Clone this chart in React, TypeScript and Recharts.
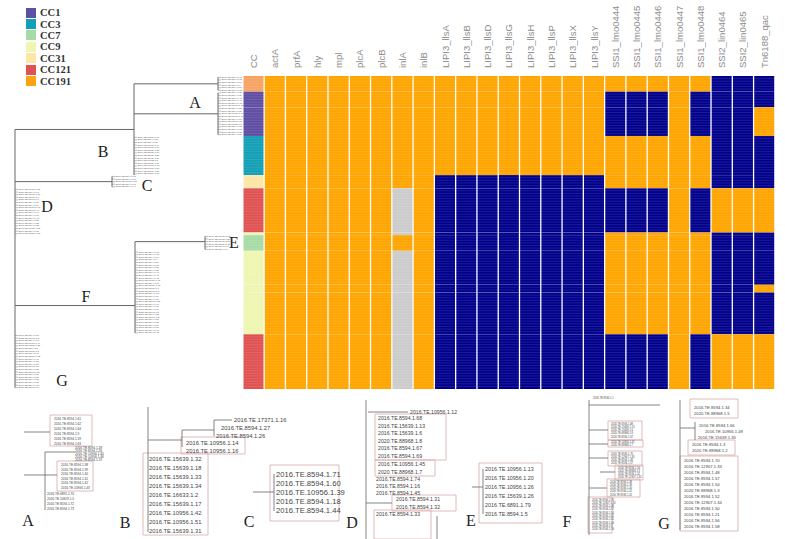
import React from 'react'
import {
  BarChart, Bar, XAxis, YAxis, Cell, ReferenceLine, ReferenceArea,
  ScatterChart, Scatter,
} from 'recharts'

// ─── Heatmap data ─────────────────────────────────────────────────────────
const GENES = [
  'actA', 'prfA', 'hly', 'mpl', 'plcA', 'plcB', 'inlA', 'inlB',
  'LIPI3_llsA', 'LIPI3_llsB', 'LIPI3_llsD', 'LIPI3_llsG', 'LIPI3_llsH', 'LIPI3_llsP', 'LIPI3_llsX', 'LIPI3_llsY',
  'SSI1_lmo0444', 'SSI1_lmo0445', 'SSI1_lmo0446', 'SSI1_lmo0447', 'SSI1_lmo0448',
  'SSI2_lin0464', 'SSI2_lin0465', 'Tn6188_qac',
]

// blocks of isolates (rows) in tree order
const BLOCK_ROWS = [6, 6, 11, 15, 5, 17, 1, 6, 13, 3, 16, 21]
const BLOCK_CC = ['CC191', 'CC1', 'CC1', 'CC3', 'CC31', 'CC121', 'CC9', 'CC7', 'CC9', 'CC9', 'CC9', 'CC121']
// 1 = present, 0 = absent, g = partial   (core | LIPI3 | SSI1 | SSI2 + Tn6188)
const BLOCK_PROFILE = [
  '11111111 11111111 11111 000',
  '11111111 11111111 00010 000',
  '11111111 11111111 00010 001',
  '11111111 11111111 11111 000',
  '11111111 00000000 11111 000',
  '111111g1 00000000 00010 111',
  '111111g1 00000000 11111 000',
  '11111111 00000000 11111 000',
  '111111g1 00000000 11111 000',
  '111111g1 00000000 11111 001',
  '111111g1 00000000 11111 000',
  '111111g1 00000000 00010 111',
].map(s => s.replace(/ /g, ''))

const LEGEND = [
  { cc: 'CC1', color: '#5f4ea3' },
  { cc: 'CC3', color: '#139fb6' },
  { cc: 'CC7', color: '#a7dba6' },
  { cc: 'CC9', color: '#eef6b2' },
  { cc: 'CC31', color: '#fde6a6' },
  { cc: 'CC121', color: '#e05252' },
  { cc: 'CC191', color: '#fca311' },
]
const CC_CELL: Record<string, string> = {
  ...Object.fromEntries(LEGEND.map(l => [l.cc, l.color])),
  CC191: '#f8a262',
}
const GENE_COLOR: Record<string, string> = { '1': '#ffa500', '0': '#00008b', g: '#cccccc' }

const TOTAL_ROWS = BLOCK_ROWS.reduce((a, b) => a + b, 0)
const BLOCK_START = BLOCK_ROWS.map((_, i) => BLOCK_ROWS.slice(0, i).reduce((a, b) => a + b, 0))

const heatData = ['CC', ...GENES].map(name => {
  const row: Record<string, string | number> = { name }
  BLOCK_ROWS.forEach((n, k) => { row['b' + k] = n })
  return row
})

function cellColor(col: number, block: number) {
  if (col === 0) return CC_CELL[BLOCK_CC[block]]
  return GENE_COLOR[BLOCK_PROFILE[block][col - 1]]
}

// ─── Tree data ────────────────────────────────────────────────────────────
const A_NAMES = ['2016.TE.8594.1.61', '2016.TE.8594.1.62', '2016.TE.8594.1.64', '2016.TE.8594.1.9', '2016.TE.8594.1.59', '2016.TE.8594.1.63']
const A_MID = ['2016.TE.8594.1.28', '2016.TE.8594.1.26', '2016.TE.10956.1.40', '2016.TE.10956.1.46', '2016.TE.8594.1.19']
const A_BOX2 = ['2016.TE.8594.1.38', '2016.TE.8594.1.39', '2016.TE.8594.1.40', '2016.TE.8594.1.41', '2016.TE.8594.1.42', '2016.TE.10956.1.43']
const A_LOW = ['2016.TE.6891.1.70', '2016.TE.10629.1.5', '2016.TE.8594.1.72', '2016.TE.8594.1.73']
const B_TOP = ['2016.TE.17371.1.16', '2016.TE.8594.1.27', '2016.TE.8594.1.26']
const B_PAIR = ['2016.TE.10956.1.14', '2016.TE.10956.1.16']
const B_BOX = ['2016.TE.15639.1.32', '2016.TE.15639.1.18', '2016.TE.15639.1.33', '2016.TE.15639.1.34', '2016.TE.16633.1.2', '2016.TE.15639.1.17', '2016.TE.10956.1.42', '2016.TE.10956.1.51', '2016.TE.15639.1.31']
const C_NAMES = ['2016.TE.8594.1.71', '2016.TE.8594.1.60', '2016.TE.10956.1.39', '2016.TE.8594.1.18', '2016.TE.8594.1.44']
const D_TOP = ['2016.TE.10956.1.12']
const D_BOX1 = ['2016.TE.8594.1.68', '2016.TE.15639.1.13', '2016.TE.15639.1.6', '2020.TE.88968.1.8', '2016.TE.8594.1.67', '2016.TE.8594.1.69']
const D_BOX2 = ['2016.TE.10956.1.45', '2020.TE.88968.1.7']
const D_MID = ['2016.TE.8594.1.74', '2016.TE.8594.1.16', '2016.TE.8594.1.45']
const D_BOX3 = ['2016.TE.8594.1.31', '2016.TE.8594.1.32']
const D_LAST = ['2016.TE.8594.1.33']
const E_NAMES = ['2016.TE.10956.1.13', '2016.TE.10956.1.20', '2016.TE.10956.1.26', '2016.TE.15639.1.26', '2016.TE.6891.1.79', '2016.TE.8594.1.5']
const G_BOX1 = ['2016.TE.8594.1.34', '2020.TE.88968.1.5']
const G_MID = ['2016.TE.8594.1.66', '2016.TE.10956.1.49', '2016.TE.15639.1.35']
const G_BOX2 = ['2016.TE.8594.1.3', '2020.TE.88968.1.2']
const G_BOX3 = ['2016.TE.8594.1.70', '2016.TE.12907.1.33', '2016.TE.8594.1.48', '2016.TE.8594.1.57', '2016.TE.8594.1.54', '2020.TE.88968.1.3', '2016.TE.8594.1.52', '2016.TE.12907.1.34', '2016.TE.8594.1.50', '2016.TE.8594.1.21', '2016.TE.8594.1.56', '2016.TE.8594.1.58']
const POOL = [...A_NAMES, ...A_BOX2, ...D_BOX1, ...G_BOX3]

// clades: which row blocks, where the node sits (branch-length units), leaf names
const CLADES = [
  { blocks: [0], node: 218, names: A_NAMES },
  { blocks: [1, 2], node: 218, names: [...A_BOX2, ...A_MID, ...A_LOW] },
  { blocks: [3], node: 134, names: [...B_TOP, ...B_PAIR, ...B_BOX] },
  { blocks: [4], node: 112, names: C_NAMES },
  { blocks: [5, 6], node: 15, names: [...D_TOP, ...D_BOX1, ...D_BOX2, ...D_MID, ...D_BOX3, ...D_LAST] },
  { blocks: [7], node: 205, names: E_NAMES },
  { blocks: [8, 9, 10], node: 135, names: POOL },
  { blocks: [11], node: 15, names: [...G_BOX1, ...G_MID, ...G_BOX2, ...G_BOX3] },
]

// internal branches [x1, row1, x2, row2]
const TREE_BRANCHES = [
  [15, 20.5, 15, 119.5],
  [15, 20.5, 134, 20.5],
  [134, 3, 134, 38],
  [134, 3, 218, 3],
  [218, 0.5, 218, 5.5],
  [134, 14.5, 218, 14.5],
  [218, 6.5, 218, 22.5],
  [15, 40.5, 112, 40.5],
  [112, 38.5, 112, 42.5],
  [15, 88, 135, 88],
  [135, 63.5, 135, 98.5],
  [135, 63.5, 205, 63.5],
  [205, 61.5, 205, 66.5],
]

const CLADE_LETTERS = [
  { name: 'A', x: 195, y: 10 },
  { name: 'B', x: 103, y: 29 },
  { name: 'C', x: 147, y: 41.8 },
  { name: 'D', x: 47, y: 50 },
  { name: 'E', x: 234, y: 63.7 },
  { name: 'F', x: 86, y: 84.4 },
  { name: 'G', x: 62, y: 116.6 },
]

const leafData = CLADES.flatMap(c => {
  const first = BLOCK_START[c.blocks[0]]
  const count = c.blocks.reduce((a, b) => a + BLOCK_ROWS[b], 0)
  return Array.from({ length: count }, (_, i) => ({
    x: c.node, y: first + i + 0.5, name: c.names[i % c.names.length],
  }))
})

// ─── Zoomed insets ────────────────────────────────────────────────────────
const INSET_TEXT = [
  { panel: 'A', x: 54, y0: 419, step: 5, names: A_NAMES },
  { panel: 'A', x: 75, y0: 448, step: 3, names: A_MID },
  { panel: 'A', x: 61, y0: 465, step: 4.6, names: A_BOX2 },
  { panel: 'A', x: 47, y0: 494, step: 5, names: A_LOW },
  { panel: 'B', x: 234, y0: 420, step: 0, names: [B_TOP[0]] },
  { panel: 'B', x: 221, y0: 428, step: 0, names: [B_TOP[1]] },
  { panel: 'B', x: 216, y0: 436, step: 0, names: [B_TOP[2]] },
  { panel: 'B', x: 186, y0: 443, step: 7.5, names: B_PAIR },
  { panel: 'B', x: 149, y0: 459, step: 9, names: B_BOX },
  { panel: 'C', x: 276, y0: 474, step: 9.2, names: C_NAMES },
  { panel: 'D', x: 410, y0: 412, step: 0, names: D_TOP },
  { panel: 'D', x: 378, y0: 418, step: 7.6, names: D_BOX1 },
  { panel: 'D', x: 378, y0: 464, step: 7.5, names: D_BOX2 },
  { panel: 'D', x: 376, y0: 479, step: 7, names: D_MID },
  { panel: 'D', x: 396, y0: 499, step: 8, names: D_BOX3 },
  { panel: 'D', x: 376, y0: 514, step: 0, names: D_LAST },
  { panel: 'E', x: 485, y0: 469, step: 9, names: E_NAMES },
  { panel: 'F', x: 593, y0: 398, step: 0, names: ['2016.TE.8594.1.1'] },
  { panel: 'F', x: 611, y0: 424, step: 3.3, names: D_BOX1.slice(0, 5) },
  { panel: 'F', x: 611, y0: 442, step: 3.3, names: D_BOX2 },
  { panel: 'F', x: 611, y0: 454, step: 3.3, names: G_BOX3.slice(0, 4) },
  { panel: 'F', x: 618, y0: 468, step: 3.3, names: G_BOX3.slice(4, 8) },
  { panel: 'F', x: 610, y0: 482, step: 3.3, names: A_BOX2.slice(0, 5) },
  { panel: 'F', x: 592, y0: 500, step: 3.3, names: [...G_BOX3.slice(0, 5), ...A_NAMES.slice(0, 5)] },
  { panel: 'G', x: 694, y0: 407, step: 6, names: G_BOX1 },
  { panel: 'G', x: 699, y0: 425, step: 0, names: [G_MID[0]] },
  { panel: 'G', x: 705, y0: 431, step: 0, names: [G_MID[1]] },
  { panel: 'G', x: 698, y0: 437, step: 0, names: [G_MID[2]] },
  { panel: 'G', x: 692, y0: 444, step: 6, names: G_BOX2 },
  { panel: 'G', x: 684, y0: 460, step: 6, names: G_BOX3 },
]
const INSET_FONT: Record<string, number> = { A: 3.2, B: 5.8, C: 7.6, D: 5.2, E: 5.4, F: 2.6, G: 4.2 }

const INSET_BOXES = [
  [50, 415, 92, 446], [57, 461, 93, 491],
  [181, 437, 245, 454], [143, 453, 208, 535],
  [270, 465, 339, 521],
  [375, 414, 446, 460], [375, 460, 435, 476], [392, 495, 456, 511], [374, 510, 431, 539],
  [479, 463, 542, 523],
  [608, 421, 642, 440], [608, 440, 643, 447], [608, 451, 642, 466], [615, 465, 643, 480], [607, 479, 640, 497], [588, 497, 612, 533],
  [690, 399, 738, 418], [688, 440, 735, 455], [680, 456, 738, 531],
]

const INSET_LINES = [
  [24, 432, 50, 432], [24, 475, 57, 475], [45, 452, 45, 510], [45, 452, 75, 452],
  [148, 407, 148, 532], [148, 440, 182, 440], [182, 430, 182, 447], [182, 430, 214, 430], [214, 420, 214, 436], [214, 420, 232, 420],
  [253, 492, 274, 492], [274, 474, 274, 511],
  [366, 400, 366, 539], [368, 412, 408, 412], [366, 503, 392, 503], [437, 516, 437, 539],
  [472, 487, 483, 487], [483, 469, 483, 514],
  [589, 400, 589, 535], [589, 405, 660, 405], [589, 430, 608, 430], [589, 444, 608, 444], [589, 458, 608, 458], [600, 472, 615, 472], [589, 488, 607, 488],
  [680, 400, 680, 530], [680, 428, 695, 428], [695, 422, 695, 440],
]

const INSET_LETTERS = [
  { name: 'A', x: 28, y: 520 }, { name: 'B', x: 125, y: 522 }, { name: 'C', x: 249, y: 521 },
  { name: 'D', x: 352, y: 522 }, { name: 'E', x: 471, y: 520 }, { name: 'F', x: 567, y: 521 },
  { name: 'G', x: 664, y: 523 },
]

const insetPoints = INSET_TEXT.flatMap(g => g.names.map((name, i) => ({ panel: g.panel, x: g.x, y: g.y0 + i * g.step, name })))

// ─── Shapes ───────────────────────────────────────────────────────────────
const SERIF = '"Liberation Serif", "DejaVu Serif", serif'
const SANS = '"Liberation Sans", Arial, sans-serif'

function GeneTick({ x, y, payload }: any) {
  return (
    <text transform={`translate(${x + 3.4},${y}) rotate(-90)`} textAnchor="start" fontSize={9.5} fill="#8c8c8c" fontFamily={SANS}>
      {payload.value}
    </text>
  )
}

const leafShape = (p: any) => (
  <g>
    <line x1={p.cx} y1={p.cy} x2={p.cx + 3} y2={p.cy} stroke="#777" strokeWidth={0.5} />
    <text x={p.cx + 3.5} y={p.cy} fontSize={2.4} dominantBaseline="central" fill="#555" fontFamily={SANS}>{p.payload.name}</text>
  </g>
)

const letterShape = (p: any) => (
  <text x={p.cx} y={p.cy} fontSize={16} textAnchor="middle" dominantBaseline="central" fill="#222" fontFamily={SERIF}>{p.payload.name}</text>
)

const insetLabel = (size: number) => (p: any) => (
  <text x={p.cx} y={p.cy} fontSize={size} dominantBaseline="central" fill="#444" fontFamily={SANS}>{p.payload.name}</text>
)

// ─── Parts ────────────────────────────────────────────────────────────────
function CcLegend() {
  return (
    <div style={{ position: 'absolute', left: 26, top: 7 }}>
      {LEGEND.map(l => (
        <div key={l.cc} style={{ display: 'flex', alignItems: 'center', height: 11.4 }}>
          <span style={{ width: 10, height: 10, background: l.color, display: 'inline-block' }} />
          <span style={{ marginLeft: 4, fontFamily: SERIF, fontWeight: 'bold', fontSize: 10.5, color: '#333' }}>{l.cc}</span>
        </div>
      ))}
    </div>
  )
}

function Heatmap() {
  return (
    <div style={{ position: 'absolute', left: 243, top: 0 }}>
      <BarChart width={535} height={392} data={heatData} margin={{ top: 6, right: 3, bottom: 3, left: 0 }} barCategoryGap={0.5}>
        <XAxis dataKey="name" orientation="top" interval={0} height={70} tickLine={false} axisLine={false} tick={<GeneTick />} />
        <YAxis type="number" domain={[0, TOTAL_ROWS]} reversed hide />
        {BLOCK_ROWS.map((_, k) => (
          <Bar key={k} dataKey={'b' + k} stackId="h" isAnimationActive={false}>
            {heatData.map((_, ci) => <Cell key={ci} fill={cellColor(ci, k)} />)}
          </Bar>
        ))}
        {Array.from({ length: TOTAL_ROWS - 1 }, (_, i) => (
          <ReferenceLine key={i} y={i + 1} stroke="#ffffff" strokeOpacity={0.22} strokeWidth={0.5} />
        ))}
      </BarChart>
    </div>
  )
}

function Tree() {
  return (
    <div style={{ position: 'absolute', left: 0, top: 0 }}>
      <ScatterChart width={243} height={392} margin={{ top: 76, right: 0, bottom: 3, left: 0 }}>
        <XAxis type="number" dataKey="x" domain={[0, 243]} hide />
        <YAxis type="number" dataKey="y" domain={[0, TOTAL_ROWS]} reversed hide />
        {TREE_BRANCHES.map(([x1, y1, x2, y2], i) => (
          <ReferenceLine key={i} segment={[{ x: x1, y: y1 }, { x: x2, y: y2 }]} stroke="#666" strokeWidth={1} />
        ))}
        <Scatter data={leafData} shape={leafShape} isAnimationActive={false} />
        <Scatter data={CLADE_LETTERS} shape={letterShape} isAnimationActive={false} />
      </ScatterChart>
    </div>
  )
}

function Insets() {
  return (
    <div style={{ position: 'absolute', left: 0, top: 395 }}>
      <ScatterChart width={785} height={144} margin={{ top: 0, right: 0, bottom: 0, left: 0 }}>
        <XAxis type="number" dataKey="x" domain={[0, 785]} hide />
        <YAxis type="number" dataKey="y" domain={[395, 539]} reversed hide />
        {INSET_BOXES.map(([x1, y1, x2, y2], i) => (
          <ReferenceArea key={i} x1={x1} x2={x2} y1={y1} y2={y2} fill="none" stroke="#d8a9a9" strokeWidth={0.8} />
        ))}
        {INSET_LINES.map(([x1, y1, x2, y2], i) => (
          <ReferenceLine key={i} segment={[{ x: x1, y: y1 }, { x: x2, y: y2 }]} stroke="#777" strokeWidth={0.9} />
        ))}
        {Object.keys(INSET_FONT).map(panel => (
          <Scatter key={panel} data={insetPoints.filter(p => p.panel === panel)} shape={insetLabel(INSET_FONT[panel])} isAnimationActive={false} />
        ))}
        <Scatter data={INSET_LETTERS} shape={letterShape} isAnimationActive={false} />
      </ScatterChart>
    </div>
  )
}

export default function App() {
  return (
    <div style={{ position: 'absolute', left: 0, top: 0, width: 785, height: 539, background: '#fff', overflow: 'hidden' }}>
      <Tree />
      <Heatmap />
      <CcLegend />
      <Insets />
    </div>
  )
}
